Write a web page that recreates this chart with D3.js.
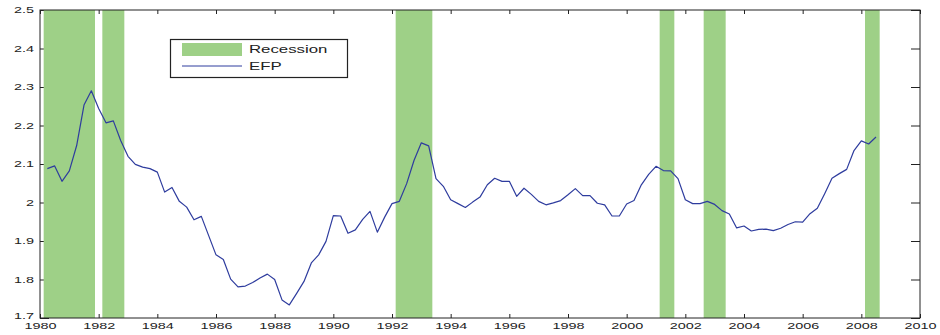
<!DOCTYPE html>
<html>
<head>
<meta charset="utf-8">
<script src="https://cdn.jsdelivr.net/npm/d3@7"></script>
<style>
  html, body { margin: 0; padding: 0; background: #fff; }
  svg { display: block; }
  text { font-family: "Liberation Sans", Arial, Helvetica, sans-serif; fill: #222; }
</style>
</head>
<body>
<svg id="chart" width="940" height="335"></svg>
<script>
// ---- data ----
const dates = [
  1980.25, 1980.5, 1980.75,
  1981, 1981.25, 1981.5, 1981.75,
  1982, 1982.25, 1982.5, 1982.75,
  1983, 1983.25, 1983.5, 1983.75,
  1984, 1984.25, 1984.5, 1984.75,
  1985, 1985.25, 1985.5, 1985.75,
  1986, 1986.25, 1986.5, 1986.75,
  1987, 1987.25, 1987.5, 1987.75,
  1988, 1988.25, 1988.5, 1988.75,
  1989, 1989.25, 1989.5, 1989.75,
  1990, 1990.25, 1990.5, 1990.75,
  1991, 1991.25, 1991.5, 1991.75,
  1992, 1992.25, 1992.5, 1992.75,
  1993, 1993.25, 1993.5, 1993.75,
  1994, 1994.25, 1994.5, 1994.75,
  1995, 1995.25, 1995.5, 1995.75,
  1996, 1996.25, 1996.5, 1996.75,
  1997, 1997.25, 1997.5, 1997.75,
  1998, 1998.25, 1998.5, 1998.75,
  1999, 1999.25, 1999.5, 1999.75,
  2000, 2000.25, 2000.5, 2000.75,
  2001, 2001.25, 2001.5, 2001.75,
  2002, 2002.25, 2002.5, 2002.75,
  2003, 2003.25, 2003.5, 2003.75,
  2004, 2004.25, 2004.5, 2004.75,
  2005, 2005.25, 2005.5, 2005.75,
  2006, 2006.25, 2006.5, 2006.75,
  2007, 2007.25, 2007.5, 2007.75,
  2008, 2008.25, 2008.5
];
const efp = [
  2.088, 2.095, 2.055,
  2.082, 2.148, 2.253, 2.290,
  2.244, 2.207, 2.212, 2.161,
  2.120, 2.099, 2.092, 2.088,
  2.079, 2.027, 2.039, 2.003,
  1.988, 1.955, 1.964, 1.914,
  1.864, 1.852, 1.801, 1.781,
  1.783, 1.792, 1.804, 1.814,
  1.800, 1.747, 1.734, 1.764,
  1.795, 1.843, 1.864, 1.899,
  1.966, 1.965, 1.920, 1.929,
  1.956, 1.977, 1.923, 1.962,
  1.997, 2.003, 2.049, 2.109,
  2.155, 2.147, 2.062, 2.042,
  2.007, 1.997, 1.987, 2.001,
  2.014, 2.046, 2.063, 2.055,
  2.055, 2.016, 2.037, 2.021,
  2.003, 1.994, 1.999, 2.005,
  2.020, 2.036, 2.018, 2.018,
  1.998, 1.994, 1.965, 1.965,
  1.996, 2.005, 2.046, 2.073,
  2.094, 2.083, 2.082, 2.062,
  2.007, 1.997, 1.997, 2.003,
  1.995, 1.979, 1.970, 1.934,
  1.939, 1.926, 1.930, 1.931,
  1.927, 1.933, 1.943, 1.950,
  1.949, 1.971, 1.985, 2.023,
  2.063, 2.075, 2.086, 2.135,
  2.160, 2.152, 2.170
];
const recessionStart = [1980.125, 1982.125, 1992.125, 2001.125, 2002.625, 2008.125];
const recessionEnd   = [1981.875, 1982.875, 1993.375, 2001.625, 2003.375, 2008.625];
const xTicks = [1980, 1982, 1984, 1986, 1988, 1990, 1992, 1994, 1996, 1998, 2000, 2002, 2004, 2006, 2008, 2010];
const yTicks = [1.7, 1.8, 1.9, 2.0, 2.1, 2.2, 2.3, 2.4, 2.5];
const legendLabels = ["Recession", "EFP"];

// ---- layout ----
const L = 40, R = 920, T = 10, B = 318;
const SX = 1.6; // horizontal text stretch of the original figure
const GREEN = "#9ed087", BLUE = "#2e3c9e", AX = "#222";

const svg = d3.select("#chart");
const x = d3.scaleLinear().domain([1980, 2010]).range([L, R]);
const y = d3.scaleLinear().domain([1.7, 2.5]).range([B, T]);
const fmtY = d => String(+d.toFixed(1));

// axes (ticks inward)
const gB = svg.append("g").attr("transform", `translate(0,${B})`)
  .call(d3.axisBottom(x).tickValues(xTicks).tickFormat(d3.format("d")).tickSizeInner(-4).tickSizeOuter(0).tickPadding(5));
const gT = svg.append("g").attr("transform", `translate(0,${T})`)
  .call(d3.axisTop(x).tickValues(xTicks).tickFormat("").tickSizeInner(-4).tickSizeOuter(0));
const gLft = svg.append("g").attr("transform", `translate(${L},0)`)
  .call(d3.axisLeft(y).tickValues(yTicks).tickFormat(fmtY).tickSizeInner(-9).tickSizeOuter(0).tickPadding(6));
const gRt = svg.append("g").attr("transform", `translate(${R},0)`)
  .call(d3.axisRight(y).tickValues(yTicks).tickFormat("").tickSizeInner(-9).tickSizeOuter(0));

[gB, gT, gLft, gRt].forEach(g => {
  g.selectAll(".domain").remove();
  g.selectAll("line").attr("stroke", AX).attr("stroke-width", 1);
});
gB.selectAll("text")
  .attr("font-size", 9).attr("fill", "#222")
  .attr("font-family", "Liberation Sans, Arial, sans-serif")
  .attr("transform", `scale(${SX},1)`);
gLft.selectAll("text")
  .attr("font-size", 9).attr("fill", "#222")
  .attr("font-family", "Liberation Sans, Arial, sans-serif")
  .attr("x", -6 / SX)
  .attr("dy", d => d === 1.7 ? "0.1em" : "0.32em")
  .attr("transform", `scale(${SX},1)`);

// recession bands
const bands = recessionStart.map((s, i) => ({ s, e: recessionEnd[i] }));
svg.append("g").selectAll("rect").data(bands).join("rect")
  .attr("x", d => x(d.s)).attr("width", d => x(d.e) - x(d.s))
  .attr("y", T).attr("height", B - T)
  .attr("fill", GREEN);

// EFP line
const series = dates.map((d, i) => ({ t: d, v: efp[i] }));
svg.append("path").datum(series)
  .attr("fill", "none").attr("stroke", BLUE).attr("stroke-width", 1.2)
  .attr("stroke-linejoin", "round")
  .attr("d", d3.line().x(d => x(d.t)).y(d => y(d.v)));

// box
svg.append("rect").attr("x", L).attr("y", T).attr("width", R - L).attr("height", B - T)
  .attr("fill", "none").attr("stroke", AX).attr("stroke-width", 1);

// legend
const lg = svg.append("g");
lg.append("rect").attr("x", 170.5).attr("y", 39.5).attr("width", 177).attr("height", 38)
  .attr("fill", "#fff").attr("stroke", AX).attr("stroke-width", 1.2);
lg.append("rect").attr("x", 182).attr("y", 43).attr("width", 60).attr("height", 13).attr("fill", GREEN);
lg.append("line").attr("x1", 182).attr("x2", 242).attr("y1", 66).attr("y2", 66)
  .attr("stroke", BLUE).attr("stroke-width", 1);
lg.selectAll("text.lab").data(legendLabels).join("text").attr("class", "lab")
  .attr("transform", (d, i) => `translate(249,${i === 0 ? 49.5 : 66}) scale(${SX},1)`)
  .attr("dy", "0.36em").attr("font-size", 10.5).text(d => d);
</script>
</body>
</html>
